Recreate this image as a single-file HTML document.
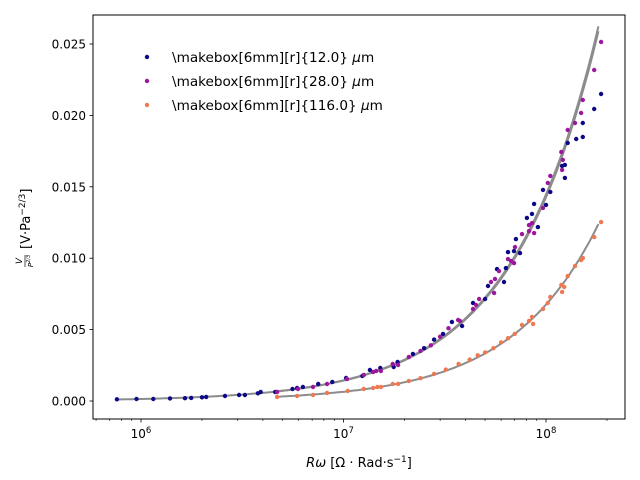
<!DOCTYPE html>
<html><head><meta charset="utf-8">
<style>
body{margin:0;background:#fff;}
svg{display:block;font-family:"DejaVu Sans","Liberation Sans",sans-serif;}
</style></head>
<body>
<svg id="chart" width="640" height="480" viewBox="0 0 640 480">
<rect x="0" y="0" width="640" height="480" fill="#fff"/>
<g id="curves"></g>
<g id="points"></g>
<rect x="93" y="15" width="532" height="404" fill="none" stroke="#000" stroke-width="1"/>
<g id="xticks"></g>
<g id="yticks"></g>
<text x="359" y="467" font-size="13" text-anchor="middle"><tspan font-style="italic">Rω</tspan> [Ω · Rad·s<tspan baseline-shift="super" font-size="9">−1</tspan>]</text>
<g transform="translate(26,217) rotate(-90)">
<text x="-44" y="-4" font-size="9" font-style="italic" text-anchor="middle">V</text>
<line x1="-50" y1="-1" x2="-38" y2="-1" stroke="#000" stroke-width="0.7"/>
<text x="-44" y="7" font-size="7" font-style="italic" text-anchor="middle">P<tspan baseline-shift="super" font-size="5">2/3</tspan></text>
<text x="-32" y="4" font-size="13">[V·Pa<tspan baseline-shift="super" font-size="9">−2/3</tspan>]</text>
</g>
<g id="legend"></g>
</svg>
<script>
const blueX=[7.6e5,9.5e5,1.15e6,1.39e6,1.65e6,1.77e6,2.0e6,2.1e6,2.6e6,3.05e6,3.26e6,3.78e6,3.9e6,4.6e6,5.6e6,5.9e6,6.3e6,7.5e6,8.8e6,1.03e7,1.24e7,1.35e7,1.52e7,1.77e7,1.85e7,2.2e7,2.5e7,2.8e7,3.1e7,3.43e7,3.85e7,4.36e7,5.0e7,5.17e7,5.73e7,6.2e7,6.34e7,6.49e7,6.95e7,7.1e7,7.44e7,8.05e7,8.53e7,8.73e7,9.12e7,9.66e7,1.0e8,1.05e8,1.2e8,1.24e8,1.24e8,1.28e8,1.41e8,1.52e8,1.52e8,1.73e8,1.87e8];
const blueY=[0.00012,0.00014,0.00014,0.00018,0.0002,0.00022,0.00026,0.00028,0.00035,0.00042,0.00042,0.00054,0.00063,0.00063,0.00084,0.00091,0.00098,0.00119,0.00133,0.00161,0.00175,0.00217,0.00231,0.00238,0.00273,0.0033,0.0037,0.0043,0.0047,0.00553,0.00525,0.00686,0.00714,0.00805,0.00924,0.00833,0.00931,0.01043,0.0105,0.01134,0.01036,0.01282,0.0131,0.0138,0.01218,0.01478,0.01373,0.01464,0.01646,0.01653,0.01562,0.01807,0.01835,0.01947,0.01849,0.02045,0.0215];
const purpleX=[4.7e6,5.96e6,7.07e6,8.29e6,1.04e7,1.26e7,1.4e7,1.45e7,1.53e7,1.75e7,1.86e7,2.1e7,2.4e7,2.7e7,3.0e7,3.3e7,3.68e7,3.76e7,4.36e7,4.51e7,4.67e7,5.35e7,5.54e7,5.6e7,5.86e7,6.49e7,6.72e7,6.95e7,7.03e7,7.61e7,8.24e7,8.53e7,8.73e7,8.24e7,9.66e7,1.02e8,1.05e8,1.19e8,1.2e8,1.21e8,1.28e8,1.39e8,1.49e8,1.52e8,1.73e8,1.87e8];
const purpleY=[0.00063,0.00084,0.00098,0.00119,0.00154,0.00182,0.00203,0.0021,0.0021,0.00259,0.00252,0.00308,0.0035,0.0039,0.0045,0.0051,0.00567,0.0056,0.00644,0.00672,0.00714,0.00833,0.00756,0.00854,0.0091,0.00994,0.0098,0.00966,0.01078,0.01169,0.0119,0.01246,0.01176,0.01232,0.01352,0.01527,0.01576,0.01744,0.01618,0.01688,0.01898,0.01947,0.02017,0.02108,0.02318,0.02514];
const orangeX=[4.7e6,5.9e6,7.07e6,8.29e6,1.05e7,1.26e7,1.4e7,1.47e7,1.53e7,1.75e7,1.86e7,2.1e7,2.4e7,2.8e7,3.2e7,3.7e7,4.2e7,4.6e7,5.0e7,5.5e7,6.0e7,6.5e7,7.0e7,7.61e7,8.24e7,8.53e7,8.63e7,9.66e7,1.02e8,1.05e8,1.19e8,1.2e8,1.23e8,1.28e8,1.39e8,1.49e8,1.52e8,1.73e8,1.87e8];
const orangeY=[0.00028,0.00035,0.00042,0.00056,0.0007,0.00084,0.00091,0.00098,0.00098,0.00119,0.00119,0.0014,0.0016,0.0019,0.0022,0.0026,0.0029,0.0032,0.0034,0.0037,0.0041,0.0044,0.0047,0.00532,0.0056,0.00588,0.00539,0.00644,0.00686,0.00728,0.00812,0.00763,0.00798,0.00875,0.00945,0.00987,0.01001,0.01148,0.01253];
const seriesLabels=["12.0","28.0","116.0"];
const yTicks=[0,0.005,0.010,0.015,0.020,0.025];
const yTickLabels=["0.000","0.005","0.010","0.015","0.020","0.025"];
const xDecades=[6,7,8];

const NS="http://www.w3.org/2000/svg";
const L=93,R=625,T=15,B=419;
const lxMin=5.763,lxMax=8.390,yMin=-0.00126,yMax=0.02703;
function sx(v){return L+(Math.log10(v)-lxMin)/(lxMax-lxMin)*(R-L);}
function sy(v){return B-(v-yMin)/(yMax-yMin)*(B-T);}
function mk(tag,attrs,parent){const e=document.createElementNS(NS,tag);for(const k in attrs)e.setAttribute(k,attrs[k]);parent.appendChild(e);return e;}

const series=[{x:blueX,y:blueY,c:"#0d0887",n:"blue"},{x:purpleX,y:purpleY,c:"#9c179e",n:"purple"},{x:orangeX,y:orangeY,c:"#ed7953",n:"orange"}];
const gc=document.getElementById('curves'),gp=document.getElementById('points');
series.forEach(s=>{
  let n=s.x.length,sxx=0,sx1=0,sy1=0,sxy=0;
  for(let i=0;i<n;i++){const a=Math.log(s.x[i]),b=Math.log(s.y[i]);sx1+=a;sy1+=b;sxx+=a*a;sxy+=a*b;}
  const bb=(n*sxy-sx1*sy1)/(n*sxx-sx1*sx1),aa=(sy1-bb*sx1)/n;
  const x0=Math.min(...s.x),x1=Math.max(...s.x)*0.97;
  let d="";
  for(let i=0;i<=100;i++){const lx=Math.log(x0)+(Math.log(x1)-Math.log(x0))*i/100;const v=Math.exp(aa+bb*lx);d+=(i?"L":"M")+sx(Math.exp(lx)).toFixed(1)+","+sy(v).toFixed(1);}
  const p=mk('path',{d:d,fill:'none',stroke:'#8c8c8c','stroke-width':2},gc);
  
  
  for(let i=0;i<n;i++){
    const c=mk('circle',{cx:sx(s.x[i]).toFixed(1),cy:sy(s.y[i]).toFixed(1),r:2.2,fill:s.c},gp);
    
    
  }
});
const gx=document.getElementById('xticks');
for(let d=5;d<=8;d++){for(let m=1;m<10;m++){const v=m*Math.pow(10,d);const px=sx(v);if(px<L||px>R)continue;
  mk('line',{x1:px,y1:B,x2:px,y2:B+(m===1?3.5:2),stroke:'#000','stroke-width':m===1?0.8:0.6},gx);}}
xDecades.forEach(d=>{const px=sx(Math.pow(10,d));
  const t=mk('text',{x:px,y:B+19,'font-size':12,'text-anchor':'middle'},gx);
  t.innerHTML='10<tspan baseline-shift="super" font-size="8.5">'+d+'</tspan>';
  
  });
const gy=document.getElementById('yticks');
yTicks.forEach((v,i)=>{const py=sy(v);
  mk('line',{x1:L-3.5,y1:py,x2:L,y2:py,stroke:'#000','stroke-width':0.8},gy);
  const t=mk('text',{x:L-7,y:py+4.5,'font-size':12,'text-anchor':'end'},gy);
  t.textContent=yTickLabels[i];
  
  });
const gl=document.getElementById('legend');
series.forEach((s,i)=>{const y=57+i*24;
  mk('circle',{cx:147,cy:y,r:2.2,fill:s.c},gl);
  const t=mk('text',{x:172,y:y+5,'font-size':13.6},gl);
  t.innerHTML='\\makebox[6mm][r]{'+seriesLabels[i]+'} <tspan font-style="italic">μ</tspan>m';
  
  });
</script>
</body></html>
